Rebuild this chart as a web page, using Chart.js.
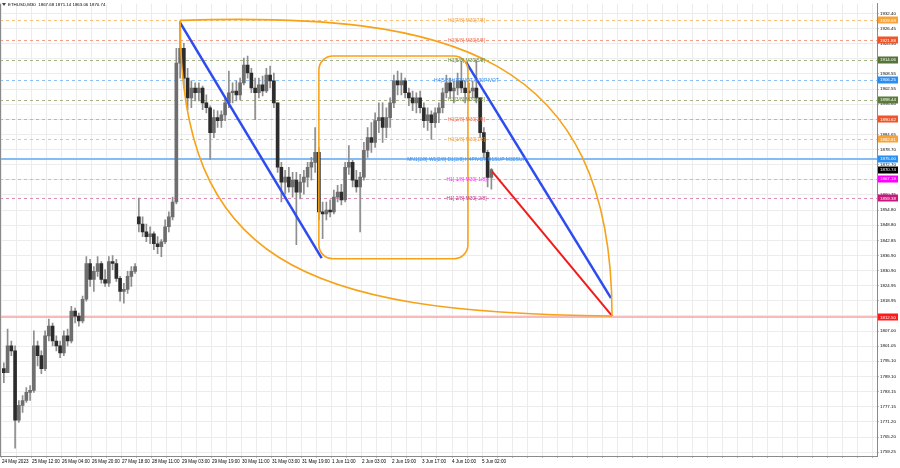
<!DOCTYPE html>
<html>
<head>
<meta charset="utf-8">
<script src="https://cdn.jsdelivr.net/npm/chart.js@4"></script>
<style>
html,body{margin:0;padding:0;background:#fff;}
#wrap{width:900px;height:468px;}
</style>
</head>
<body>
<div id="wrap"><canvas id="c" width="900" height="468"></canvas></div>
<script>
// ETHUSD, M30 chart with Murrey levels and drawn objects
const symbolTitle = 'ETHUSD,M30  1867.68 1871.14 1863.06 1870.74';
const barsPerCandle = 4; // each candle groups four M30 bars

const xTickLabels = ['24 May 2023','25 May 12:00','26 May 04:00','26 May 20:00','27 May 18:00','28 May 11:00',
  '29 May 03:00','29 May 19:00','30 May 11:00','31 May 03:00','31 May 19:00','1 Jun 11:00','2 Jun 03:00',
  '2 Jun 19:00','3 Jun 17:00','4 Jun 10:00','5 Jun 02:00'];

const yTickLabels = ['1759.25','1765.20','1771.20','1777.15','1783.15','1789.10','1795.10','1801.05','1807.00',
  '1813.00','1818.95','1824.95','1830.90','1836.90','1842.85','1848.80','1854.80','1860.75','1866.75','1872.70',
  '1878.70','1884.65','1890.65','1896.60','1902.55','1908.55','1914.50','1920.50','1926.45','1932.40'];

const opens = [1792.2,1790.6,1801.2,1799.2,1771.8,1777.7,1779.6,1782.8,1783.6,1801.2,
1797.3,1792.2,1805.1,1809.0,1803.1,1801.2,1798.4,1805.1,1803.1,1814.9,
1812.9,1811.0,1819.6,1833.7,1827.4,1830.6,1833.7,1827.4,1825.9,1834.5,
1833.7,1827.8,1822.7,1823.5,1828.6,1830.6,1852.1,1849.3,1846.2,1844.3,
1845.4,1841.5,1840.3,1842.3,1848.2,1852.1,1858.0,1912.8,1918.7,1906.9,
1899.1,1903.0,1901.1,1903.0,1897.1,1895.2,1885.4,1891.3,1890.1,1892.4,
1897.1,1901.1,1901.8,1900.3,1905.0,1912.0,1908.9,1903.0,1901.1,1904.2,
1901.8,1908.1,1905.8,1897.1,1871.7,1865.8,1867.8,1863.9,1866.6,1861.9,
1865.8,1867.8,1871.7,1873.6,1877.6,1854.1,1853.3,1854.8,1854.1,1859.9,
1861.9,1858.8,1871.7,1873.6,1866.6,1863.9,1867.8,1878.4,1883.4,1881.5,
1890.1,1891.3,1887.4,1891.3,1897.1,1905.8,1904.2,1905.8,1901.1,1899.1,
1897.1,1899.1,1895.2,1890.1,1892.4,1889.3,1893.2,1895.2,1901.1,1905.0,
1901.8,1903.0,1905.8,1903.0,1901.1,1901.8,1903.0,1899.1,1885.4,1877.6,
1867.68];

const highs = [1794.5,1807.8,1803.1,1801.2,1779.6,1781.6,1784.7,1785.5,1807.1,1803.1,
1799.2,1807.1,1811.8,1810.2,1805.1,1803.1,1807.1,1807.8,1816.8,1816.1,
1814.1,1820.8,1836.4,1835.3,1832.5,1836.4,1834.5,1831.3,1836.4,1836.8,
1835.3,1828.6,1825.9,1830.6,1832.5,1833.7,1859.5,1852.1,1849.3,1848.2,
1846.2,1844.3,1843.1,1850.9,1854.1,1859.9,1918.7,1929.3,1920.6,1910.8,
1905.8,1905.0,1905.0,1903.8,1900.3,1896.0,1894.4,1894.0,1894.0,1899.1,
1909.7,1905.0,1905.8,1906.9,1914.8,1915.6,1910.8,1906.9,1906.9,1907.7,
1910.8,1911.6,1908.9,1897.1,1873.6,1870.5,1871.7,1869.7,1869.7,1868.9,
1870.5,1873.6,1875.6,1887.4,1879.5,1858.0,1858.0,1858.8,1862.7,1864.6,
1865.0,1873.6,1880.3,1874.4,1870.5,1869.7,1881.5,1887.4,1889.3,1893.2,
1897.1,1897.1,1895.2,1899.1,1908.1,1909.7,1908.9,1906.9,1903.0,1901.8,
1901.1,1901.8,1897.1,1895.2,1894.0,1895.2,1897.1,1903.0,1908.1,1906.9,
1905.8,1908.9,1913.6,1905.8,1905.0,1905.8,1914.0,1899.1,1887.4,1878.4,
1871.14];

const lows = [1786.7,1790.6,1797.3,1760.8,1771.0,1774.9,1778.9,1779.6,1782.8,1793.3,
1790.2,1791.4,1803.1,1801.2,1799.2,1796.5,1797.3,1801.2,1802.3,1810.2,
1809.0,1810.2,1818.8,1824.7,1822.7,1828.6,1825.9,1824.7,1824.7,1831.3,
1826.6,1818.8,1818.0,1821.9,1824.7,1829.8,1846.2,1844.3,1842.3,1841.5,
1839.2,1837.6,1836.4,1841.5,1846.2,1850.9,1857.2,1906.9,1903.0,1894.4,
1895.2,1897.9,1897.9,1894.4,1893.2,1874.8,1883.4,1887.4,1887.4,1890.1,
1895.2,1897.1,1897.9,1898.3,1904.2,1906.9,1901.1,1890.5,1899.1,1899.9,
1901.1,1903.0,1895.2,1869.7,1858.0,1861.1,1861.9,1859.9,1841.1,1859.2,
1861.1,1863.9,1866.6,1869.7,1850.9,1843.5,1850.9,1852.1,1853.3,1858.0,
1856.8,1858.0,1868.9,1863.9,1861.9,1846.2,1866.6,1875.6,1877.6,1879.5,
1885.4,1881.5,1883.4,1887.4,1895.2,1900.3,1900.3,1899.1,1896.0,1894.0,
1893.2,1893.2,1887.4,1886.2,1882.7,1887.4,1889.3,1893.2,1899.1,1899.1,
1897.1,1900.3,1901.1,1897.1,1897.9,1899.1,1897.1,1883.4,1875.6,1863.9,
1863.06];

const closes = [1790.6,1801.2,1799.2,1771.8,1777.7,1779.6,1782.8,1783.6,1801.2,1797.3,
1792.2,1805.1,1809.0,1803.1,1801.2,1798.4,1805.1,1803.1,1814.9,1812.9,
1811.0,1819.6,1833.7,1827.4,1830.6,1833.7,1827.4,1825.9,1834.5,1833.7,
1827.8,1822.7,1823.5,1828.6,1830.6,1832.5,1849.3,1846.2,1844.3,1845.4,
1841.5,1840.3,1842.3,1848.2,1852.1,1858.0,1912.8,1918.7,1906.9,1899.1,
1903.0,1901.1,1903.0,1897.1,1895.2,1885.4,1891.3,1890.1,1892.4,1897.1,
1901.1,1901.8,1900.3,1905.0,1912.0,1908.9,1903.0,1901.1,1904.2,1901.8,
1908.1,1905.8,1897.1,1871.7,1865.8,1867.8,1863.9,1866.6,1861.9,1865.8,
1867.8,1871.7,1873.6,1877.6,1854.1,1853.3,1854.8,1854.1,1859.9,1861.9,
1858.8,1871.7,1873.6,1866.6,1863.9,1867.8,1878.4,1883.4,1881.5,1890.1,
1891.3,1887.4,1891.3,1897.1,1905.8,1904.2,1905.8,1901.1,1899.1,1897.1,
1899.1,1895.2,1890.1,1892.4,1889.3,1893.2,1895.2,1901.1,1905.0,1901.8,
1903.0,1905.8,1903.0,1901.1,1901.8,1903.0,1899.1,1885.4,1877.6,1867.68,
1870.74];

// Murrey math levels (H1 / M30 octave)
const levelValues = [1929.69,1921.88,1914.06,1906.25,1898.44,1890.62,1882.81,1875.00,1867.19,1859.38];
const levelTexts = ['H1[7/8] M30[7/8]','H1[6/8] M30[6/8]','H1[5/8] M30[5/8]','H4[5/8] H1PIVOT M30PIVOT',
  'H1[3/8] M30[3/8]','H1[2/8] M30[2/8]','H1[1/8] M30[1/8]','MN1[2/8] W1[2/8] D1[2/8] H4PIVOT H1SUP M30SUP',
  'H1[-1/8] M30[-1/8]','H1[-2/8] M30[-2/8]'];
const targetLevel = 1812.50;
const lastPrice = 1870.74;
const levelTextBar = 495.5;

// drawn objects, anchored in (bar, price)
const blueLineA = [[190, 1928.8],[341, 1835.8]];
const blueLineB = [[495, 1913.2],[649.6, 1820.0]];
const redLine = [[522.7, 1870.1],[650.7, 1813.0]];
const arcTop = [[190, 1929.7],[478, 1933.2],[650.7, 1916.7],[650.7, 1813.0]];
const arcBottom = [[190, 1929.7],[190, 1834.5],[318, 1814.1],[650.7, 1813.0]];
const boxCorners = [[338, 1915.6],[497, 1835.6]];

// ---- styles ----
const levelStyle = [
  {line:'#f6c27a', text:'#f0a040', box:'#f7a33a', dash:[3,3], w:1},
  {line:'#f3a08a', text:'#f07050', box:'#f0552a', dash:[3,3], w:1},
  {line:'#a4b486', text:'#6b8a3a', box:'#55743a', dash:[3,3], w:1},
  {line:'#8dc0f5', text:'#3a90f0', box:'#2a8ef0', dash:[3,3], w:1},
  {line:'#a4b486', text:'#6b8a3a', box:'#5a7a3a', dash:[3,3], w:1},
  {line:'#f3a08a', text:'#f07050', box:'#f0552a', dash:[3,3], w:1},
  {line:'#f6c27a', text:'#f0a040', box:'#f7a33a', dash:[3,3], w:1},
  {line:'#86bcf6', text:'#3a90f0', box:'#2a8ef0', dash:[], w:2},
  {line:'#f49af4', text:'#ff30ff', box:'#ff00ff', dash:[3,3], w:1},
  {line:'#dc8ab8', text:'#c0308a', box:'#c8187e', dash:[3,3], w:1}
];
const orange = '#f6a31a';

const candleX = k => k * barsPerCandle + barsPerCandle / 2;
const wickData = highs.map((h, k) => ({x: candleX(k), y: [lows[k], h]}));
const bodyData = opens.map((o, k) => {
  let a = Math.min(o, closes[k]), b = Math.max(o, closes[k]);
  if (b - a < 0.4) { const m = (a + b) / 2; a = m - 0.2; b = m + 0.2; }
  return {x: candleX(k), y: [a, b]};
});
const bodyColors = opens.map((o, k) => closes[k] >= o ? '#6e6e6e' : '#2c2c2c');
const toXY = pts => pts.map(p => ({x: p[0], y: p[1]}));

const overlay = {
  id: 'overlay',
  beforeDatasetsDraw(chart) {
    const {ctx, chartArea: a, scales: {y}} = chart;
    ctx.save();
    ctx.beginPath(); ctx.rect(a.left, a.top, a.right - a.left, a.bottom - a.top); ctx.clip();
    levelValues.forEach((v, i) => {
      const s = levelStyle[i];
      const py = Math.round(y.getPixelForValue(v)) + (s.w === 1 ? 0.5 : 0);
      ctx.strokeStyle = s.line; ctx.lineWidth = s.w; ctx.setLineDash(s.dash);
      ctx.beginPath(); ctx.moveTo(a.left, py); ctx.lineTo(a.right, py); ctx.stroke();
    });
    const ty = Math.round(y.getPixelForValue(targetLevel));
    ctx.setLineDash([]); ctx.strokeStyle = '#f4a4a4'; ctx.lineWidth = 1.5;
    ctx.beginPath(); ctx.moveTo(a.left, ty); ctx.lineTo(a.right, ty); ctx.stroke();
    ctx.restore();
  },
  afterDatasetsDraw(chart) {
    const {ctx, chartArea: a, scales: {x, y}} = chart;
    const P = p => [x.getPixelForValue(p[0]), y.getPixelForValue(p[1])];
    ctx.save();
    ctx.beginPath(); ctx.rect(a.left, a.top, a.right - a.left, a.bottom - a.top); ctx.clip();
    ctx.strokeStyle = orange; ctx.lineWidth = 1.6; ctx.setLineDash([]);
    [arcTop, arcBottom].forEach(c => {
      const [p0, p1, p2, p3] = c.map(P);
      ctx.beginPath(); ctx.moveTo(p0[0], p0[1]);
      ctx.bezierCurveTo(p1[0], p1[1], p2[0], p2[1], p3[0], p3[1]);
      ctx.stroke();
    });
    const [b0, b1] = boxCorners.map(P);
    const l = Math.min(b0[0], b1[0]), r = Math.max(b0[0], b1[0]);
    const t = Math.min(b0[1], b1[1]), bt = Math.max(b0[1], b1[1]);
    const rad = 14;
    ctx.beginPath();
    ctx.moveTo(l + rad, t);
    ctx.arcTo(r, t, r, bt, rad); ctx.arcTo(r, bt, l, bt, rad);
    ctx.arcTo(l, bt, l, t, rad); ctx.arcTo(l, t, r, t, rad);
    ctx.closePath(); ctx.stroke();

    ctx.font = '5px "Liberation Sans", Arial, sans-serif';
    ctx.textAlign = 'center'; ctx.textBaseline = 'middle';
    const tx = x.getPixelForValue(levelTextBar);
    levelValues.forEach((v, i) => {
      ctx.fillStyle = levelStyle[i].text;
      ctx.fillText(levelTexts[i], tx, y.getPixelForValue(v) + 0.5);
    });
    ctx.restore();
  },
  afterDraw(chart) {
    const {ctx, chartArea: a, scales: {y}} = chart;
    ctx.save();
    const tags = levelValues.map((v, i) => ({v, c: levelStyle[i].box}));
    tags.push({v: lastPrice, c: '#000000'});
    tags.push({v: targetLevel, c: '#ff1a1a'});
    ctx.font = '4.4px "Liberation Sans", Arial, sans-serif';
    ctx.textAlign = 'left'; ctx.textBaseline = 'middle';
    tags.forEach(tg => {
      const py = y.getPixelForValue(tg.v);
      ctx.fillStyle = tg.c;
      ctx.fillRect(a.right + 1, Math.round(py) - 3.5, 20, 7);
      ctx.fillStyle = '#ffffff';
      ctx.fillText(tg.v.toFixed(2), a.right + 3, py + 0.3);
    });
    // header
    ctx.fillStyle = '#444';
    ctx.beginPath(); ctx.moveTo(2, 3); ctx.lineTo(6, 3); ctx.lineTo(4, 6); ctx.closePath(); ctx.fill();
    ctx.fillStyle = '#000';
    ctx.font = '4.4px "Liberation Sans", Arial, sans-serif';
    ctx.fillText(symbolTitle, 8, 5);
    // frame
    ctx.strokeStyle = '#8a8a8a'; ctx.lineWidth = 1;
    ctx.beginPath(); ctx.moveTo(0.5, a.top); ctx.lineTo(0.5, a.bottom); ctx.stroke();
    ctx.restore();
  }
};

new Chart(document.getElementById('c'), {
  type: 'bar',
  data: {
    datasets: [
      {type: 'line', data: toXY(blueLineA), borderColor: '#2d4cf0', borderWidth: 2.5, pointRadius: 0, order: 0},
      {type: 'line', data: toXY(blueLineB), borderColor: '#2d4cf0', borderWidth: 2.5, pointRadius: 0, order: 0},
      {type: 'line', data: toXY(redLine), borderColor: '#ee1c1c', borderWidth: 2, pointRadius: 0, order: 0},
      {data: bodyData, backgroundColor: bodyColors, barThickness: 3, grouped: false, order: 1},
      {data: wickData, backgroundColor: '#8e8e8e', barThickness: 1, grouped: false, order: 2}
    ]
  },
  options: {
    responsive: false,
    animation: false,
    devicePixelRatio: 1,
    events: [],
    layout: {padding: 0},
    plugins: {legend: {display: false}, tooltip: {enabled: false}},
    scales: {
      x: {
        type: 'linear', position: 'bottom', min: -2.1, max: 933.3, offset: false,
        grid: {color: '#ececec', lineWidth: 1, offset: false, tickLength: 2, tickColor: '#bbb'},
        border: {color: '#8a8a8a'},
        afterBuildTicks: s => { const t = []; for (let b = 0; b <= 928; b += 16) t.push({value: b}); s.ticks = t; },
        afterFit: s => { s.height = 12; },
        ticks: {
          autoSkip: false, maxRotation: 0, minRotation: 0, align: 'start', padding: 1,
          color: '#000', font: {size: 4.6, family: '"Liberation Sans", Arial, sans-serif'},
          callback: v => (v % 32 === 0 && xTickLabels[v / 32]) ? xTickLabels[v / 32] : ''
        }
      },
      y: {
        type: 'linear', position: 'right', min: 1757.7, max: 1936.3,
        grid: {color: '#ececec', lineWidth: 1, tickLength: 2, tickColor: '#bbb'},
        border: {color: '#8a8a8a'},
        afterBuildTicks: s => { s.ticks = yTickLabels.map(t => ({value: parseFloat(t)})); },
        afterFit: s => { s.width = 23; },
        ticks: {
          padding: 1, color: '#000', font: {size: 4.4, family: '"Liberation Sans", Arial, sans-serif'},
          callback: v => v.toFixed(2)
        }
      }
    }
  },
  plugins: [overlay]
});
</script>
</body>
</html>
